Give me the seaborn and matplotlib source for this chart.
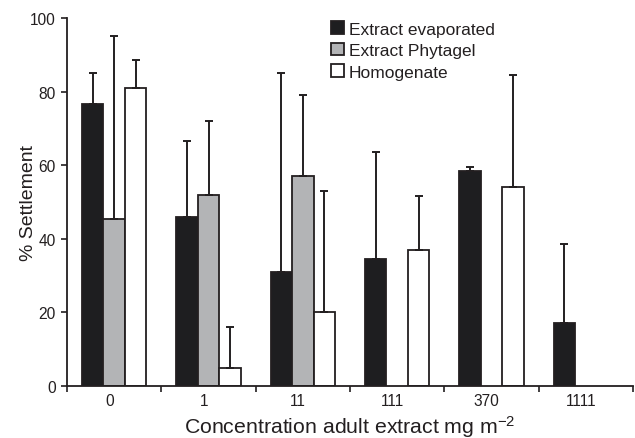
import numpy as np
import pandas as pd
import matplotlib
matplotlib.use("Agg")
import matplotlib.pyplot as plt
import seaborn as sns
from matplotlib.patches import Patch

# ---- data ----
categories = ["0", "1", "11", "111", "370", "1111"]
series = ["Extract evaporated", "Extract Phytagel", "Homogenate"]
evaporated = [76.5, 46.0, 31.0, 34.5, 58.5, 17.0]
phytagel = [45.5, 52.0, 57.0, np.nan, np.nan, np.nan]
homogenate = [81.0, 5.0, 20.0, 37.0, 54.0, np.nan]
evaporated_err_top = [85.0, 66.5, 85.0, 63.5, 59.5, 38.5]
phytagel_err_top = [95.0, 72.0, 79.0, np.nan, np.nan, np.nan]
homogenate_err_top = [88.5, 16.0, 53.0, 51.5, 84.5, np.nan]

colors = ["#1e1e20", "#b3b4b6", "#ffffff"]
text_color = "#231f20"

rows = []
for s, vals, tops in zip(series,
                         [evaporated, phytagel, homogenate],
                         [evaporated_err_top, phytagel_err_top, homogenate_err_top]):
    for c, v, t in zip(categories, vals, tops):
        rows.append({"cat": c, "series": s, "value": v, "top": t})
df = pd.DataFrame(rows)

sns.set_style("ticks")
plt.rcParams["font.family"] = ["Liberation Sans", "DejaVu Sans"]
plt.rcParams["mathtext.default"] = "regular"
plt.rcParams["text.color"] = text_color
plt.rcParams["axes.labelcolor"] = text_color
plt.rcParams["xtick.color"] = text_color
plt.rcParams["ytick.color"] = text_color

fig = plt.figure(figsize=(6.35, 4.39), dpi=100)
ax = fig.add_axes([67 / 635, 1 - 387 / 439, (633 - 67) / 635, (387 - 19) / 439])

sns.barplot(data=df.dropna(subset=["value"]), x="cat", y="value", hue="series",
            order=categories, hue_order=series, palette=colors,
            width=0.68, errorbar=None, edgecolor=text_color, linewidth=1.3,
            legend=False, ax=ax)

# upward-only error bars positioned on the drawn bars
for container, s in zip(ax.containers, series):
    sub = df[df["series"] == s].set_index("cat")
    for patch in container:
        xc = patch.get_x() + patch.get_width() / 2
        h = patch.get_height()
        if not np.isfinite(h):
            continue
        cat = categories[int(round(xc))]
        top = sub.loc[cat, "top"]
        if np.isfinite(top):
            ax.errorbar([xc], [h], yerr=[[0], [top - h]], fmt="none",
                        ecolor=text_color, elinewidth=1.4, capsize=3.2,
                        capthick=1.4, zorder=1)

ax.set_xlim(-0.5, 5.5)
ax.set_ylim(0, 100)
ax.set_yticks([0, 20, 40, 60, 80, 100])
ax.set_xticks(np.arange(-0.5, 6.0, 1.0))
ax.set_xticklabels([])
ax.set_xticks(np.arange(len(categories)) - 0.05, minor=True)
ax.set_xticklabels(categories, minor=True)
ax.tick_params(axis="x", which="major", length=4, width=1.2, direction="out")
ax.tick_params(axis="x", which="minor", length=0, pad=5, labelsize=11.2)
ax.tick_params(axis="y", length=4, width=1.2, direction="out", labelsize=11.2, pad=4)

for side in ["top", "right"]:
    ax.spines[side].set_visible(False)
for side in ["left", "bottom"]:
    ax.spines[side].set_linewidth(1.3)
    ax.spines[side].set_color(text_color)

ax.set_xlabel("Concentration adult extract mg m$^{-2}$", fontsize=15.3, labelpad=3.5)
ax.set_ylabel("% Settlement", fontsize=14, labelpad=-5)

handles = [Patch(facecolor=c, edgecolor=text_color, linewidth=1.3) for c in colors]
ax.legend(handles, series, loc="upper left", bbox_to_anchor=(0.455, 1.01),
          frameon=False, fontsize=12.5, handlelength=0.7, handleheight=0.75,
          handletextpad=0.3, labelspacing=0.35, borderaxespad=0)

fig.savefig("out.png", dpi=100)
